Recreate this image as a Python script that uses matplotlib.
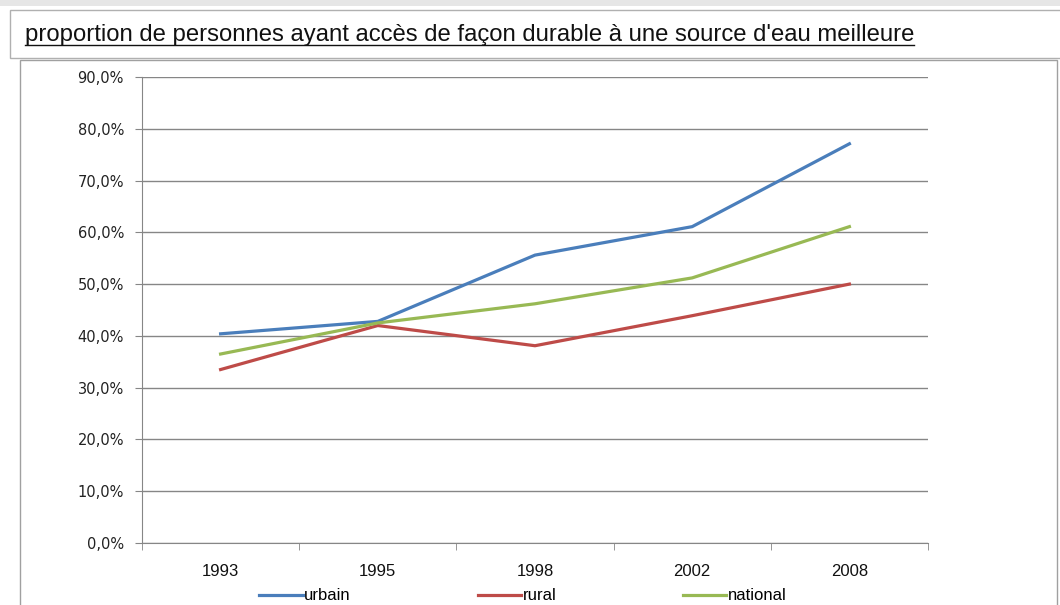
import numpy as np
import matplotlib.pyplot as plt
from matplotlib.patches import Rectangle
from matplotlib.lines import Line2D
from matplotlib.ticker import FuncFormatter

# data
years = ["1993", "1995", "1998", "2002", "2008"]
urbain = [40.4, 42.8, 55.6, 61.1, 77.1]
rural = [33.5, 42.0, 38.1, 43.9, 50.0]
national = [36.5, 42.5, 46.2, 51.2, 61.1]

title = "proportion de personnes ayant accès de façon durable à une source d'eau meilleure"

narrow = ["Liberation Sans", "DejaVu Sans"]

fig = plt.figure(figsize=(10.6, 6.05), dpi=100)
W, H = 1060, 605

# frames like the spreadsheet screenshot (drawn behind the axes)
fig.patches.append(Rectangle((0, 1 - 6 / H), 1, 6 / H, transform=fig.transFigure,
                             facecolor="#e6e6e6", edgecolor="none", zorder=-5))
fig.patches.append(Rectangle((10 / W, 1 - 58 / H), 1.0, 48 / H, transform=fig.transFigure,
                             facecolor="white", edgecolor="#b0b0b0", linewidth=1, zorder=-5))
fig.patches.append(Rectangle((20 / W, -0.01), (1057 - 20) / W, (605 - 60) / H + 0.01,
                             transform=fig.transFigure, facecolor="white",
                             edgecolor="#a0a0a0", linewidth=1, zorder=-5))

ax = fig.add_axes([142 / W, 62 / H, 786 / W, 466 / H])
ax.patch.set_alpha(0)
x = np.arange(len(years))

ax.plot(x, np.array(urbain) / 100, color="#4A7EBB", lw=2.3, label="urbain")
ax.plot(x, np.array(rural) / 100, color="#BE4B48", lw=2.3, label="rural")
ax.plot(x, np.array(national) / 100, color="#98B954", lw=2.3, label="national")

ax.set_xlim(-0.5, len(years) - 0.5)
ax.set_ylim(0, 0.9)
ax.set_yticks(np.arange(0, 0.91, 0.1))
ax.yaxis.set_major_formatter(FuncFormatter(lambda v, p: f"{v * 100:.1f}%".replace(".", ",")))
ax.set_xticks(x)
ax.set_xticklabels(years)
ax.set_xticks(np.arange(-0.5, len(years)), minor=True)
ax.tick_params(axis="x", which="major", length=0, pad=15, labelsize=12)
ax.tick_params(axis="x", which="minor", length=5, color="#868686")
ax.tick_params(axis="y", length=5, color="#868686", pad=8, labelsize=10.5)
for lab in ax.get_xticklabels():
    lab.set_family(narrow)
    lab.set_color("#111111")
for lab in ax.get_yticklabels():
    lab.set_family(["DejaVu Sans"])
    lab.set_color("#222222")

ax.grid(axis="y", color="#868686", linewidth=1)
ax.set_axisbelow(True)
for s in ["top", "right"]:
    ax.spines[s].set_visible(False)
for s in ["left", "bottom"]:
    ax.spines[s].set_color("#868686")

# legend
leg = fig.legend(loc="center", bbox_to_anchor=(523 / W, 1 - 596 / H), ncol=3,
                 frameon=False, handlelength=2.6, handletextpad=0.1,
                 columnspacing=7.6, prop={"family": narrow, "size": 12})

# underlined title
t = fig.text(25 / W, 1 - 35 / H, title, fontsize=17.2, family=narrow,
             va="center", ha="left", color="#111111")
fig.canvas.draw()
bb = t.get_window_extent()
fig.lines.append(Line2D([bb.x0 / W, bb.x1 / W], [(bb.y0 + 1) / H, (bb.y0 + 1) / H],
                       transform=fig.transFigure, color="#111111", lw=1))

fig.savefig("out.png", dpi=100)
